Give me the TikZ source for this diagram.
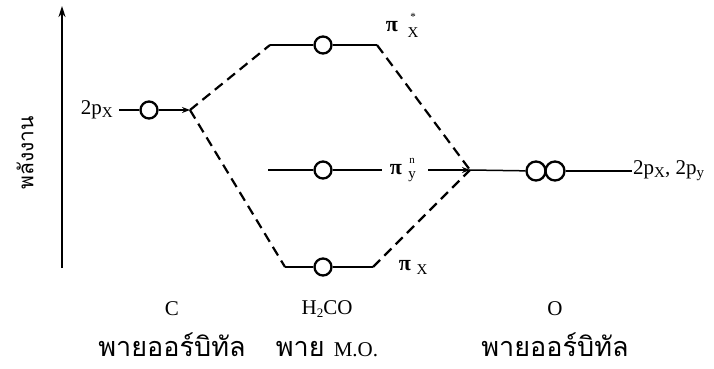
\documentclass[tikz,border=0pt]{standalone}
\usepackage{fontspec}
\setmainfont{Liberation Serif}
\newfontfamily\thaifont[Script=Thai]{Loma}
\usetikzlibrary{arrows.meta}

\tikzset{
  orb/.style={circle, draw, line width=2.3pt, minimum size=17pt, inner sep=0pt},
  orbO/.style={orb, minimum size=19pt},
  lvl/.style={line width=1.5pt},
  corr/.style={line width=2.2pt, dash pattern=on 10pt off 6pt},
  jtip/.style={-{Stealth[length=8pt,width=6pt]}},
  lbl/.style={font=\fontsize{21}{24}\selectfont, inner sep=0pt},
  small/.style={font=\fontsize{15}{16}\selectfont, inner sep=0pt},
  tiny/.style={font=\fontsize{11}{12}\selectfont, inner sep=0pt},
  thailbl/.style={font=\thaifont\fontsize{27}{30}\selectfont, inner sep=0pt},
  pilbl/.style={font=\bfseries\fontsize{22}{24}\selectfont, inner sep=0pt}
}
\newcommand{\lowsub}[1]{\raisebox{-3pt}{\fontsize{15}{16}\selectfont #1}}

\begin{document}
\begin{tikzpicture}[x=1pt, y=-1pt]
\useasboundingbox (0,0) rectangle (714,369);

% energy axis
\coordinate (axB) at (62,268);
\coordinate (axT) at (62,6);
\draw[line width=1.8pt, -{Stealth[length=11pt,width=7pt]}] (axB) -- (axT);
\node[thailbl, font=\thaifont\fontsize{21}{24}\selectfont, rotate=90] (energy) at (25,153) {พลังงาน};

% carbon 2p level
\node[lbl, anchor=east] (cl) at (113,110) {2p\lowsub{X}};
\coordinate (cS) at (119,110);
\node[orb] (c1) at (149,110) {};
\coordinate (jL) at (190,110);
\draw[lvl] (cS) -- (c1);
\draw[lvl, jtip] (c1) -- (jL);

% molecular orbital levels
\coordinate (tA) at (270,45);
\coordinate (tB) at (377,45);
\node[orb] (mt) at (323,45) {};
\draw[lvl] (tA) -- (mt) -- (tB);

\coordinate (mA) at (268,170);
\coordinate (mB) at (382,170);
\node[orb] (mm) at (323,170) {};
\draw[lvl] (mA) -- (mm) -- (mB);

\coordinate (bA) at (285,267);
\coordinate (bB) at (373,267);
\node[orb] (mb) at (323,267) {};
\draw[lvl] (bA) -- (mb) -- (bB);

% oxygen 2p levels
\coordinate (jR) at (470,170);
\node[orbO] (o1) at (536,171) {};
\node[orbO] (o2) at (555,171) {};
\coordinate (oE) at (632,171);
\draw[lvl] (jR) -- (o1);
\draw[lvl] (o2) -- (oE);
\node[lbl, anchor=west] (ol) at (633,171) {2p\lowsub{X}, 2p\lowsub{y}};

% pi labels
\node[pilbl] (pis) at (392,27) {π};
\node[small] (pisx) at (413,33) {X};
\node[tiny] (pisa) at (413,17) {*};

\node[pilbl] (pin) at (396,170) {π};
\node[small] (piny) at (412,177) {y};
\node[tiny] (pinn) at (412,161) {n};
\coordinate (nS) at (428,170);
\draw[lvl, jtip] (nS) -- (jR);

\node[pilbl] (pib) at (405,266) {π};
\node[small] (pibx) at (422,270) {X};

% correlation lines
\draw[corr] (jL) -- (tA);
\draw[corr] (jL) -- (bA);
\draw[corr] (tB) -- (jR);
\draw[corr] (bB) -- (jR);

% column captions
\node[lbl] (capC) at (172,309) {C};
\node[lbl] (capM) at (327,309) {H\raisebox{-3pt}{\fontsize{13}{14}\selectfont 2}CO};
\node[lbl] (capO) at (555,309) {O};
\node[thailbl, anchor=base] (thC) at (172,356) {พายออร์บิทัล};
\node[thailbl, anchor=base] (thM) at (327,356) {พาย {\fontspec{Liberation Serif}\fontsize{21}{24}\selectfont M.O.}};
\node[thailbl, anchor=base] (thO) at (555,356) {พายออร์บิทัล};
\end{tikzpicture}
\end{document}
